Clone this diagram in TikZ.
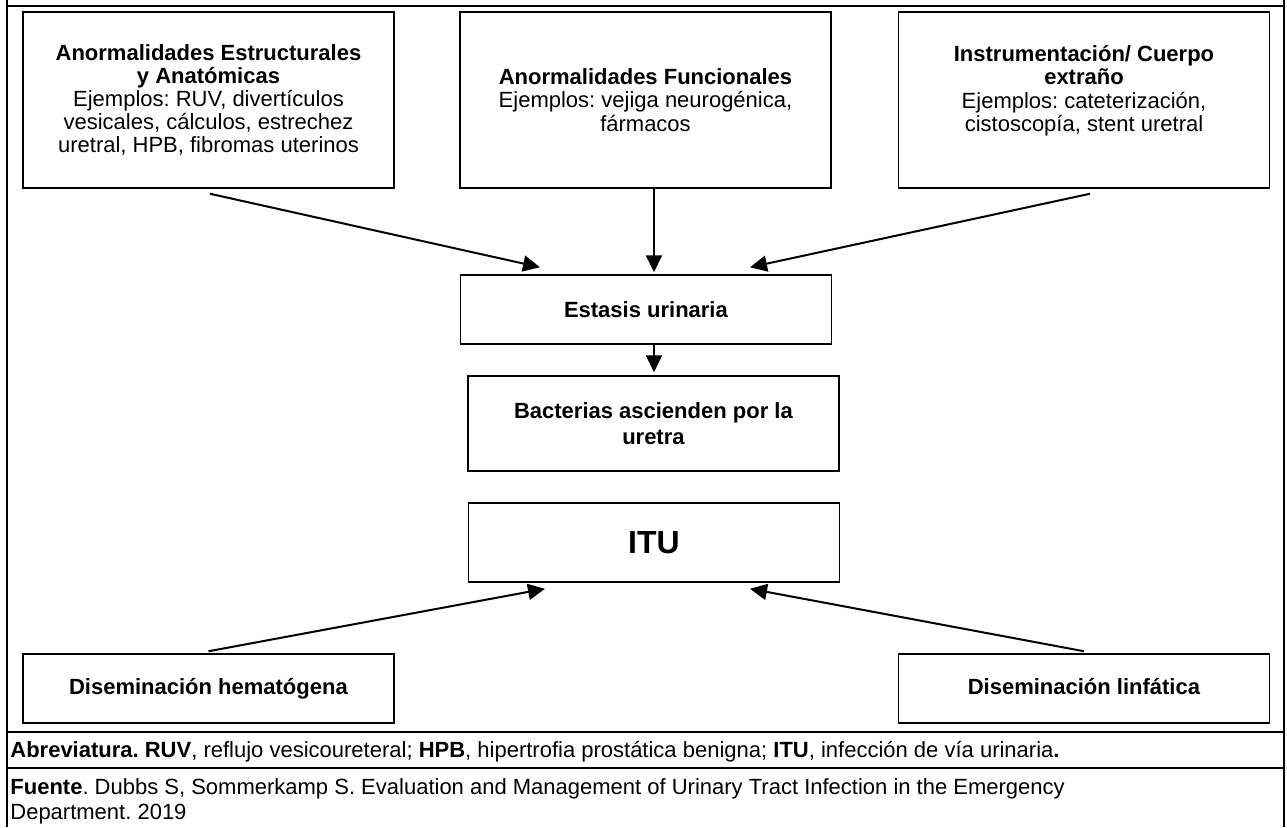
\documentclass[tikz,border=0pt]{standalone}
\usepackage{fontspec}
\setmainfont{Liberation Sans}
\frenchspacing
\usetikzlibrary{arrows.meta}

\tikzset{
    caja/.style={draw, line width=0.75pt, minimum width=185.5pt, inner sep=0pt, align=center, font=\fontsize{11pt}{12.65pt}\selectfont},
    cajaalta/.style={caja, minimum height=88pt, font=\fontsize{11pt}{11.6pt}\selectfont},
    flecha/.style={-{Triangle[length=8.5pt,width=8pt]}, line width=1pt},
    tabla/.style={line width=1.1pt},
    nota/.style={inner sep=0pt, align=left, font=\fontsize{11pt}{12.65pt}\selectfont}
}

\begin{document}
\begin{tikzpicture}[x=0.5pt, y=-0.5pt]
    \useasboundingbox (0,0) rectangle (1287,827);

    % Table frame
    \draw[tabla] (7,0) -- (7,827);
    \draw[tabla] (1284,0) -- (1284,827);
    \draw[tabla] (7,6) -- (1284,6);
    \draw[tabla] (7,732) -- (1284,732);
    \draw[tabla] (7,768) -- (1284,768);

    % Causes (top row)
    \node[cajaalta] (anat) at (208.5,100) {\textbf{Anormalidades Estructurales}\\\textbf{y Anatómicas}\\Ejemplos: RUV, divertículos\\vesicales, cálculos, estrechez\\uretral, HPB, fibromas uterinos};
    \node[cajaalta] (func) at (645.5,100) {\textbf{Anormalidades Funcionales}\\Ejemplos: vejiga neurogénica,\\fármacos};
    \node[cajaalta] (instr) at (1084,100) {\textbf{Instrumentación/ Cuerpo}\\\textbf{extraño}\\Ejemplos: cateterización,\\cistoscopía, stent uretral\\\mbox{}};

    % Middle column
    \node[caja, minimum height=34.5pt] (estasis) at (646,309.5) {\textbf{Estasis urinaria}};
    \node[caja, minimum height=47.5pt] (bact) at (653.5,423.5) {\textbf{Bacterias ascienden por la}\\\textbf{uretra}};
    \node[caja, minimum height=39.5pt, font=\fontsize{16pt}{18pt}\selectfont] (itu) at (654,542.5) {\textbf{ITU}};

    % Other routes (bottom row)
    \node[caja, minimum height=34.5pt] (hemat) at (208.5,688.5) {\textbf{Diseminación hematógena}};
    \node[caja, minimum height=34.5pt] (linf) at (1084,688.5) {\textbf{Diseminación linfática}\vphantom{g}};

    % Arrows
    \draw[flecha] ([xshift=0.75pt, yshift=-2.5pt]anat.south) -- ([xshift=-53pt, yshift=3.5pt]estasis.north);
    \draw[flecha] ([xshift=4.25pt]func.south) -- ([xshift=4pt, yshift=1pt]estasis.north);
    \draw[flecha] ([xshift=3pt, yshift=-2.5pt]instr.south) -- ([xshift=52pt, yshift=3.5pt]estasis.north);
    \draw[flecha] ([xshift=4pt]estasis.south) -- ([xshift=0.25pt, yshift=1.5pt]bact.north);
    \draw[flecha] ([yshift=1pt]hemat.north) -- ([xshift=-54.5pt, yshift=-3pt]itu.south);
    \draw[flecha] ([yshift=1pt]linf.north) -- ([xshift=48pt, yshift=-3pt]itu.south);

    % Notes below the diagram
    \node[nota, anchor=base west] (abrev) at (10,757) {\textbf{Abreviatura. RUV}, reflujo vesicoureteral; \textbf{HPB}, hipertrofia prostática benigna; \textbf{ITU}, infección de vía urinaria\textbf{.}};
    \node[nota, anchor=north west] (fuente) at (10,778) {\textbf{Fuente}. Dubbs S, Sommerkamp S. Evaluation and Management of Urinary Tract Infection in the Emergency\\Department. 2019};
\end{tikzpicture}
\end{document}
